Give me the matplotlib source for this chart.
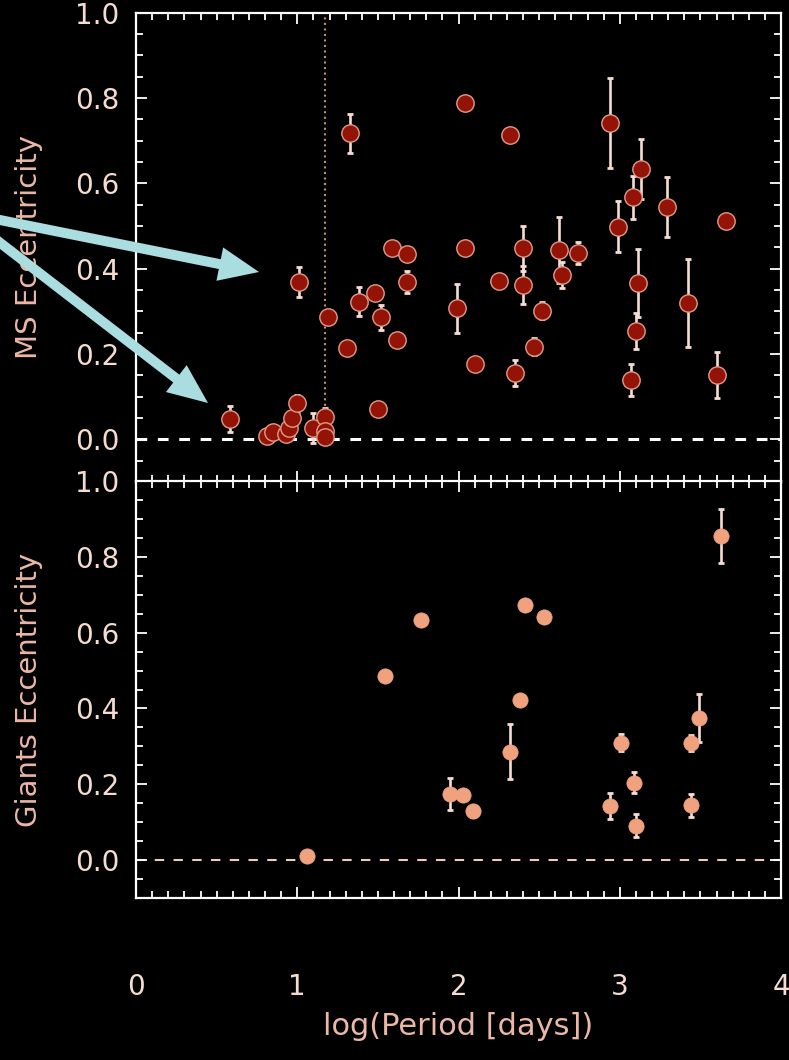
import matplotlib
matplotlib.use('Agg')
import matplotlib.pyplot as plt
from matplotlib.patches import FancyArrow
from matplotlib.transforms import IdentityTransform
from matplotlib.ticker import MultipleLocator
import numpy as np

# main-sequence binaries: log period, eccentricity, error
ms_logp = [0.58, 0.81, 0.85, 0.93, 0.95, 0.97, 1.00, 1.01, 1.10, 1.17, 1.17, 1.17,
           1.19, 1.31, 1.33, 1.38, 1.48, 1.50, 1.52, 1.59, 1.62, 1.68, 1.68, 1.99,
           2.04, 2.04, 2.10, 2.25, 2.32, 2.35, 2.40, 2.40, 2.47, 2.52, 2.62, 2.64,
           2.74, 2.94, 2.99, 3.08, 3.13, 3.11, 3.10, 3.07, 3.29, 3.42, 3.60, 3.66]
ms_ecc = [0.047, 0.008, 0.018, 0.012, 0.027, 0.049, 0.084, 0.369, 0.026, 0.053, 0.020, 0.006,
          0.286, 0.213, 0.717, 0.323, 0.344, 0.070, 0.286, 0.448, 0.233, 0.434, 0.369, 0.307,
          0.788, 0.448, 0.176, 0.372, 0.713, 0.155, 0.448, 0.362, 0.217, 0.301, 0.444, 0.385,
          0.437, 0.741, 0.498, 0.567, 0.634, 0.366, 0.254, 0.139, 0.544, 0.319, 0.151, 0.512]
ms_err = [0.03, 0.0, 0.0, 0.0, 0.0, 0.0, 0.02, 0.035, 0.035, 0.02, 0.0, 0.0,
          0.0, 0.0, 0.045, 0.035, 0.012, 0.0, 0.03, 0.0, 0.0, 0.0, 0.025, 0.058,
          0.0, 0.0, 0.0, 0.015, 0.01, 0.03, 0.053, 0.045, 0.02, 0.02, 0.078, 0.03,
          0.025, 0.105, 0.06, 0.05, 0.07, 0.08, 0.042, 0.038, 0.07, 0.103, 0.054, 0.0]

# giant binaries
gi_logp = [1.06, 1.545, 1.77, 1.95, 2.03, 2.09, 2.32, 2.38, 2.41, 2.53,
           2.94, 3.01, 3.09, 3.10, 3.44, 3.44, 3.49, 3.63]
gi_ecc = [0.011, 0.486, 0.633, 0.174, 0.171, 0.129, 0.286, 0.422, 0.674, 0.641,
          0.142, 0.310, 0.204, 0.091, 0.309, 0.145, 0.374, 0.854]
gi_err = [0.0, 0.0, 0.0, 0.042, 0.0, 0.015, 0.073, 0.0, 0.01, 0.0,
          0.034, 0.023, 0.028, 0.03, 0.02, 0.03, 0.063, 0.071]

circ_cut = 1.17  # tidal circularisation period

tick_col = '#f5dcd0'
label_col = '#ebb8a6'
err_col = '#f5dcd4'

plt.rcParams['font.family'] = 'DejaVu Sans'
fig = plt.figure(figsize=(7.89, 10.6), dpi=100, facecolor='black')
ax1 = fig.add_axes([0.1724, 0.5453, 0.8175, 0.4427])
ax2 = fig.add_axes([0.1724, 0.1528, 0.8175, 0.3934])


def style(ax):
    ax.set_facecolor('black')
    ax.set_xlim(0, 4)
    ax.set_ylim(-0.1, 1.0)
    ax.xaxis.set_major_locator(MultipleLocator(1))
    ax.xaxis.set_minor_locator(MultipleLocator(0.1))
    ax.yaxis.set_major_locator(MultipleLocator(0.2))
    ax.yaxis.set_minor_locator(MultipleLocator(0.05))
    ax.yaxis.set_major_formatter(lambda v, p: f'{v:.1f}')
    for s in ax.spines.values():
        s.set_color('white')
        s.set_linewidth(1.6)
    ax.tick_params(which='both', direction='in', top=True, right=True,
                   color='white', width=1.3, labelcolor=tick_col, labelsize=20)
    ax.tick_params(which='major', length=8)
    ax.tick_params(which='minor', length=5)
    ax.tick_params(axis='x', pad=54)
    ax.tick_params(axis='y', pad=12)


style(ax1)
style(ax2)
ax1.tick_params(axis='x', labelbottom=False)

# MS panel
ax1.axhline(0, color='white', ls=(0, (3.5, 3.5)), lw=2.2, zorder=1)
ax1.plot([circ_cut, circ_cut], [0.0, 1.0], color='#c88a7a', ls=':', lw=1.5, zorder=1)
ax1.errorbar(ms_logp, ms_ecc, yerr=ms_err, fmt='none', ecolor=err_col,
             elinewidth=1.9, capsize=2.5, capthick=2, zorder=2)
ax1.plot(ms_logp, ms_ecc, 'o', ms=12.5, mfc='#931406', mec='#e39a88', mew=1.0, zorder=3)
ax1.set_ylabel('MS Eccentricity', color=label_col, fontsize=21)
ax1.yaxis.set_label_coords(-0.144, 0.5)

# giants panel
ax2.axhline(0, color='#f2c8b8', ls=(0, (4.5, 4.5)), lw=1.5, zorder=1)
ax2.errorbar(gi_logp, gi_ecc, yerr=gi_err, fmt='none', ecolor=err_col,
             elinewidth=1.9, capsize=2.5, capthick=2, zorder=2)
ax2.plot(gi_logp, gi_ecc, 'o', ms=11, mfc='#f0a27e', mec='#f0a27e', mew=0.5, zorder=3)
ax2.set_ylabel('Giants Eccentricity', color=label_col, fontsize=21)
ax2.yaxis.set_label_coords(-0.144, 0.5)
ax2.set_xlabel('log(Period [days])', color=label_col, fontsize=22, labelpad=8)

# pointer arrows, in figure pixels (origin bottom left)
H = 1060
for (x0, y0), (x1, y1) in [((-10, 218), (259, 272)), ((-10, 235), (208, 403))]:
    a = FancyArrow(x0, H - y0, x1 - x0, (H - y1) - (H - y0), width=10,
                   head_width=34, head_length=40, length_includes_head=True,
                   color='#a9dde0', lw=0, transform=IdentityTransform(), zorder=10)
    fig.add_artist(a)

fig.savefig('out.png', dpi=100, facecolor='black')
